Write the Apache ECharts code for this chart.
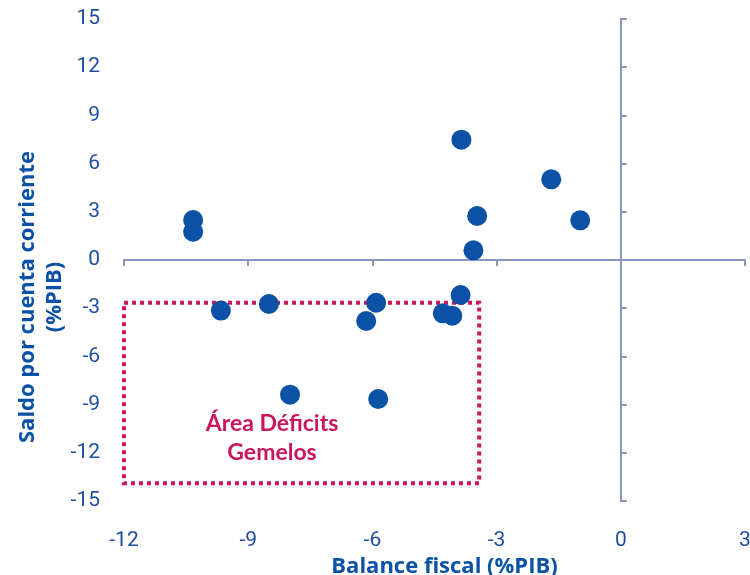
<!DOCTYPE html>
<html>
<head>
<meta charset="utf-8">
<script src="https://cdn.jsdelivr.net/npm/echarts@6/dist/echarts.min.js"></script>
<style>html,body{margin:0;padding:0;background:#fff;overflow:hidden}#c{width:750px;height:575px}</style>
</head>
<body>
<div id="c"></div>
<script>
// Data
const balanceFiscal = [-10.33, -10.33, -9.66, -8.50, -7.99, -6.15, -5.91, -5.86, -4.30, -4.07, -3.87, -3.85, -3.47, -3.56, -1.68, -0.98];
const saldoCuenta   = [  2.49,   1.76, -3.15, -2.74, -8.38, -3.80, -2.66, -8.65, -3.32, -3.47, -2.18,  7.49,  2.74,  0.60,  5.02,  2.47];
const xTicks = [-12, -9, -6, -3, 0, 3];
const yTicks = [-15, -12, -9, -6, -3, 0, 3, 6, 9, 12, 15];
const areaX = [-12, -3.42];
const areaY = [-2.66, -13.9];
const areaLabel = 'Área Déficits\nGemelos';
const xName = 'Balance fiscal (%PIB)';
const yName = 'Saldo por cuenta corriente\n(%PIB)';

const BLUE = '#0b52a6';
const LABEL = '#1d4f9e';
const AXIS = '#8a96c0';
const CRIMSON = '#c8175d';
const NUMFONT = "'Roboto', sans-serif";
const NAMEFONT = "'Open Sans', sans-serif";

const points = balanceFiscal.map((x, i) => [x, saldoCuenta[i]]);

const chart = echarts.init(document.getElementById('c'));
chart.setOption({
  animation: false,
  backgroundColor: '#fff',
  grid: { left: 124, top: 19, width: 621, height: 482, outerBoundsMode: 'none', containLabel: false },
  xAxis: [
    {
      type: 'value', min: xTicks[0], max: xTicks[xTicks.length - 1], interval: 3,
      position: 'bottom',
      axisLine: { show: false, onZero: false }, axisTick: { show: false }, splitLine: { show: false },
      axisLabel: { color: LABEL, fontSize: 21, fontFamily: NUMFONT, margin: 29 },
      name: xName, nameLocation: 'middle', nameGap: 51,
      nameTextStyle: { color: BLUE, fontSize: 22, fontWeight: 'bold', fontFamily: NAMEFONT, padding: [0, 0, 0, 20] }
    },
    {
      type: 'value', min: xTicks[0], max: xTicks[xTicks.length - 1], interval: 3,
      position: 'bottom',
      axisLine: { show: true, onZero: true, lineStyle: { color: AXIS, width: 2 } },
      axisTick: { show: true, length: 6, lineStyle: { color: AXIS, width: 2 } },
      axisLabel: { show: false }, splitLine: { show: false }
    }
  ],
  yAxis: [
    {
      type: 'value', min: yTicks[0], max: yTicks[yTicks.length - 1], interval: 3,
      position: 'left',
      axisLine: { show: false, onZero: false }, axisTick: { show: false }, splitLine: { show: false },
      axisLabel: { color: LABEL, fontSize: 21, fontFamily: NUMFONT, margin: 24 }
    },
    {
      type: 'value', min: yTicks[0], max: yTicks[yTicks.length - 1], interval: 3,
      position: 'left',
      axisLine: { show: true, onZero: true, lineStyle: { color: AXIS, width: 2 } },
      axisTick: { show: true, inside: true, length: 6, lineStyle: { color: AXIS, width: 2 } },
      axisLabel: { show: false }, splitLine: { show: false }
    }
  ],
  graphic: [
    {
      type: 'text', x: 41, y: 297, rotation: Math.PI / 2,
      style: {
        text: yName, fill: BLUE, font: 'bold 22px ' + NAMEFONT,
        textAlign: 'center', textVerticalAlign: 'middle', lineHeight: 27
      }
    }
  ],
  series: [
    {
      type: 'scatter', xAxisIndex: 0, yAxisIndex: 0,
      data: points, symbol: 'circle', symbolSize: 20,
      itemStyle: { color: BLUE, opacity: 1 },
      z: 3,
      markArea: {
        silent: true,
        itemStyle: { color: 'rgba(0,0,0,0)', borderColor: CRIMSON, borderWidth: 4, borderType: [4, 4] },
        label: {
          show: true, position: [150, 137], align: 'center', verticalAlign: 'middle',
          color: CRIMSON, fontSize: 23, fontWeight: 'bold', fontFamily: 'Lato', lineHeight: 29
        },
        data: [[
          { name: areaLabel, coord: [areaX[0], areaY[0]] },
          { coord: [areaX[1], areaY[1]] }
        ]]
      }
    }
  ]
});
</script>
</body>
</html>
